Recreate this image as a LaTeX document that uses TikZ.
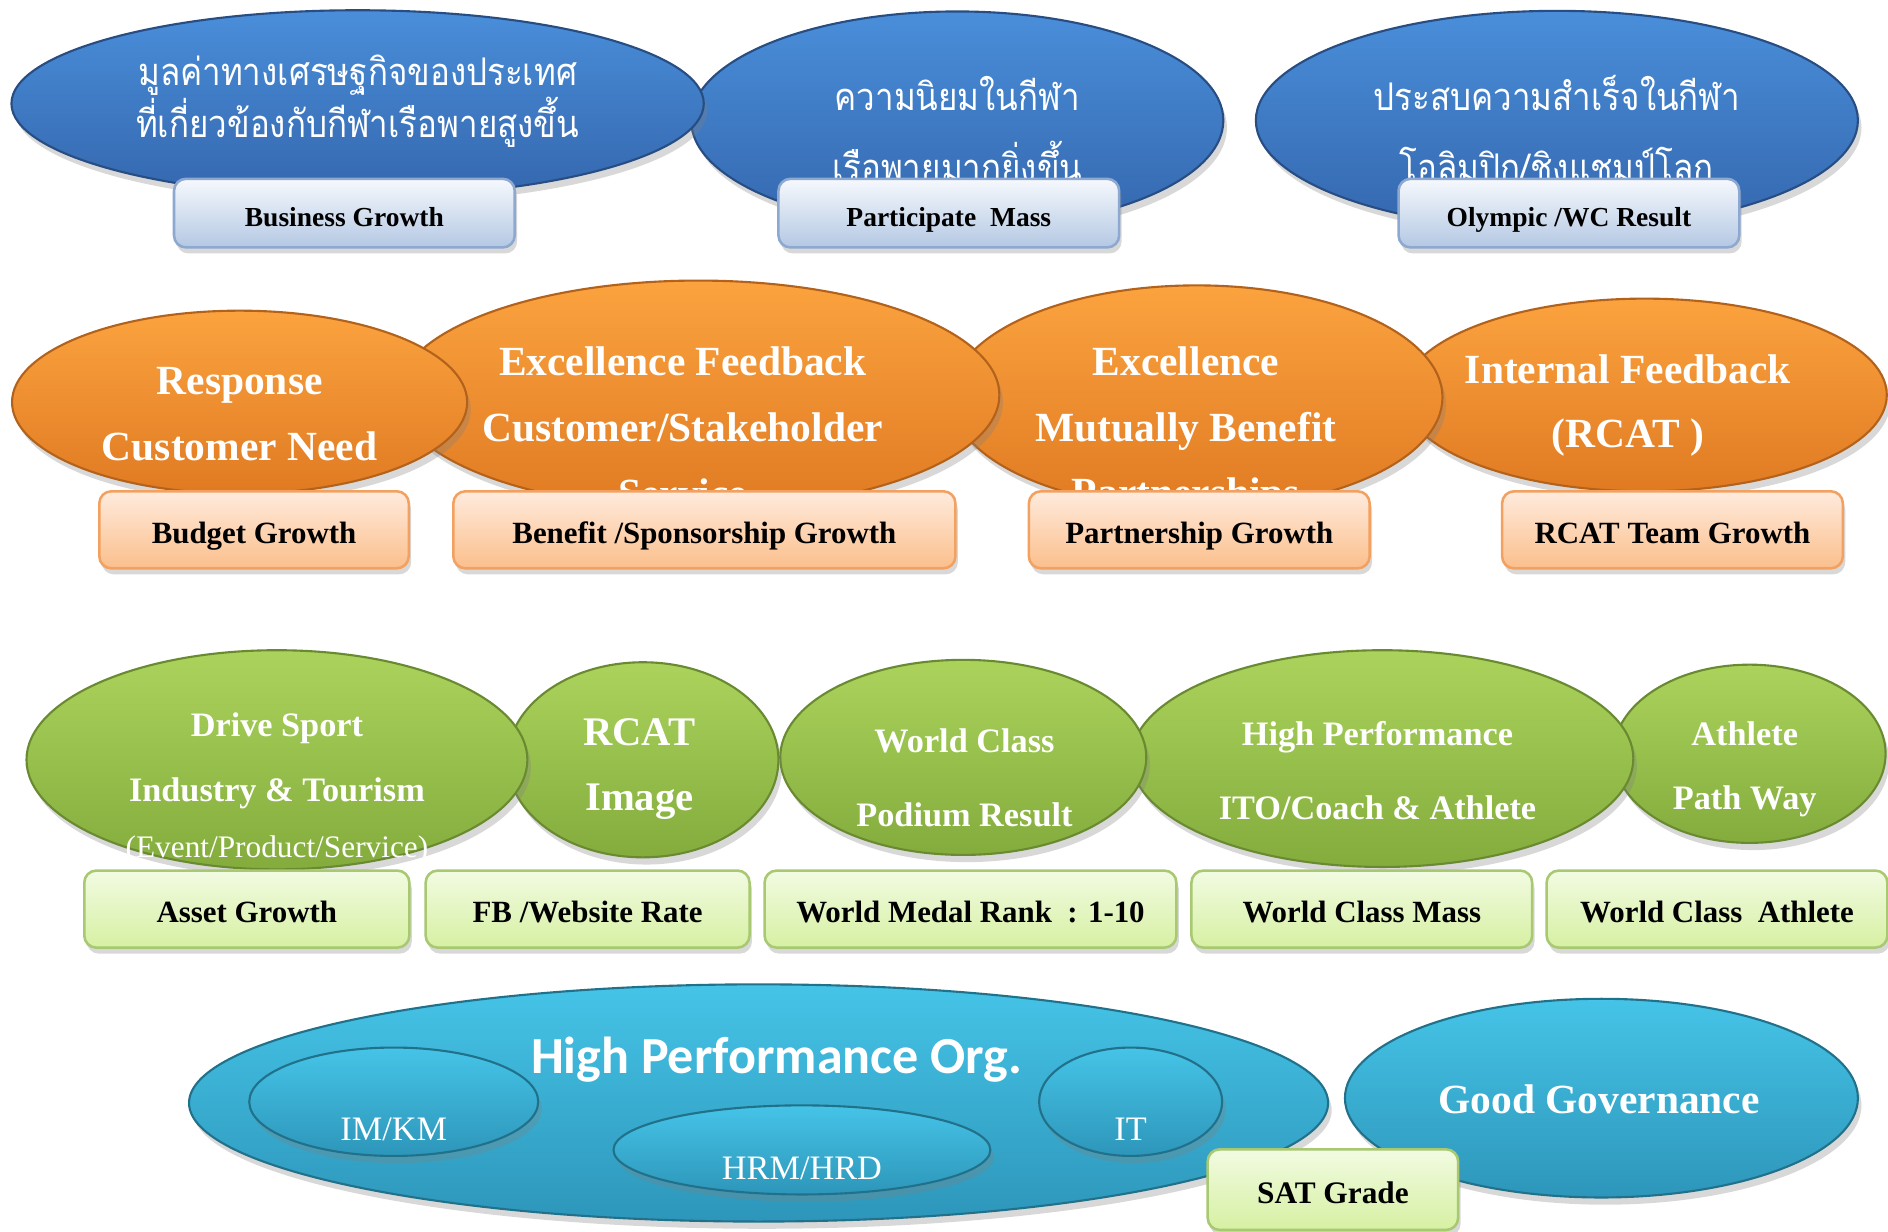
\documentclass[tikz,border=0pt]{standalone}
\usepackage{fontspec}
\setmainfont{Liberation Serif}
\newfontfamily\thaifont[Script=Thai,FakeStretch=0.87]{Loma}
\newfontfamily\calibrifont{Carlito}
\usetikzlibrary{shapes.geometric,shadows}
\definecolor{bluetop}{HTML}{4A8EDA}
\definecolor{bluebot}{HTML}{3467AE}
\definecolor{orangetop}{HTML}{FBA33F}
\definecolor{orangebot}{HTML}{E07A22}
\definecolor{greentop}{HTML}{ABD35C}
\definecolor{greenbot}{HTML}{84AC3D}
\definecolor{cyantop}{HTML}{45C4E7}
\definecolor{cyanbot}{HTML}{2D96BA}
\definecolor{bluetagtop}{HTML}{F6F9FD}
\definecolor{bluetagbot}{HTML}{B4C8E3}
\definecolor{bluetagline}{HTML}{8DA8D1}
\definecolor{orangetagtop}{HTML}{FFEBDD}
\definecolor{orangetagbot}{HTML}{FBBF8C}
\definecolor{orangetagline}{HTML}{F2A160}
\definecolor{greentagtop}{HTML}{F2FBE2}
\definecolor{greentagbot}{HTML}{D6F0A2}
\definecolor{greentagline}{HTML}{A8C872}
\begin{document}
\begin{tikzpicture}[x=0.1mm,y=-0.1mm,
  blob/.style={ellipse,inner sep=0pt,line width=0.5pt,
    drop shadow={shadow xshift=0.3mm,shadow yshift=-0.6mm,opacity=0.3}},
  blueblob/.style={blob,top color=bluetop,bottom color=bluebot,draw=bluebot!75!black},
  orangeblob/.style={blob,top color=orangetop,bottom color=orangebot,draw=orangebot!80!black},
  greenblob/.style={blob,top color=greentop,bottom color=greenbot,draw=greenbot!80!black},
  cyanblob/.style={blob,top color=cyantop,bottom color=cyanbot,draw=cyanbot!75!black},
  tag/.style={rectangle,rounded corners=1mm,inner sep=0pt,line width=0.6pt,
    minimum width=28.3mm,minimum height=6.4mm,text height=1.4ex,text depth=0pt,
    font=\bfseries\fontsize{7.3}{9}\selectfont,
    drop shadow={shadow xshift=0.2mm,shadow yshift=-0.5mm,opacity=0.3}},
  bluetag/.style={tag,top color=bluetagtop,bottom color=bluetagbot,draw=bluetagline,
    minimum height=5.7mm,font=\bfseries\fontsize{6.5}{8}\selectfont},
  orangetag/.style={tag,top color=orangetagtop,bottom color=orangetagbot,draw=orangetagline},
  greentag/.style={tag,top color=greentagtop,bottom color=greentagbot,draw=greentagline},
  caption/.style={text=white,align=center,inner sep=0pt},
  thaicap/.style={caption,font=\thaifont\fontsize{9}{#1}\selectfont},
  orangecap/.style={caption,font=\bfseries\fontsize{9.8}{#1}\selectfont},
  greencap/.style={caption,font=\bfseries\fontsize{8.1}{#1}\selectfont},
  smallcap/.style={caption,font=\fontsize{8.1}{10}\selectfont}]
\fill[white] (0,0) rectangle (1568,1023);
\useasboundingbox (0,0) rectangle (1568,1023);

% outcome row
\node[blueblob,minimum width=50mm,minimum height=18.2mm] (medalblob) at (1293,100) {};
\node[blueblob,minimum width=44.2mm,minimum height=18.1mm] (massblob) at (795,100) {};
\node[blueblob,minimum width=57.5mm,minimum height=15.5mm] (valueblob) at (297,86) {};
\node[thaicap=12.2] (valuetext) at (297,84) {มูลค่าทางเศรษฐกิจของประเทศ\\ที่เกี่ยวข้องกับกีฬาเรือพายสูงขึ้น};
\node[thaicap=16.8] (masstext) at (795,107) {ความนิยมในกีฬา\\เรือพายมากยิ่งขึ้น};
\node[thaicap=16.8] (medaltext) at (1293,107) {ประสบความสำเร็จในกีฬา\\โอลิมปิก/ชิงแชมป์โลก};
\node[bluetag] (valuetag) at (286,177) {Business Growth};
\node[bluetag] (masstag) at (788,177) {Participate~ Mass};
\node[bluetag] (medaltag) at (1303,177) {Olympic /WC Result};

% stakeholder row
\node[orangeblob,minimum width=40.2mm,minimum height=16mm] (rcatblob) at (1366,328) {};
\node[orangeblob,minimum width=40.8mm,minimum height=18.6mm] (partnerblob) at (994,330) {};
\node[orangeblob,minimum width=50mm,minimum height=19mm] (feedbackblob) at (580,328) {};
\node[orangeblob,minimum width=37.8mm,minimum height=15.2mm] (needblob) at (199,334) {};
\node[orangecap=15.4] (needtext) at (199,344) {Response\\Customer Need};
\node[orangecap=15.6] (feedbacktext) at (567,355) {Excellence Feedback\\Customer/Stakeholder\\Service};
\node[orangecap=15.4] (partnertext) at (985,358) {Excellence\\Mutually Benefit\\Partnerships};
\node[orangecap=15.1] (rcattext) at (1352,337) {Internal Feedback\\(RCAT )};
\node[orangetag,minimum width=25.7mm] (budgettag) at (211,440) {Budget Growth};
\node[orangetag,minimum width=41.7mm] (sponsortag) at (585,440) {Benefit /Sponsorship Growth};
\node[orangetag] (partnertag) at (996,440) {Partnership Growth};
\node[orangetag] (teamtag) at (1389,440) {RCAT Team Growth};

% process row
\node[greenblob,minimum width=22.6mm,minimum height=14.8mm] (pathblob) at (1453,626) {};
\node[greenblob,minimum width=41.7mm,minimum height=18mm] (hpblob) at (1148,630) {};
\node[greenblob,minimum width=30.4mm,minimum height=16.2mm] (podiumblob) at (800,629) {};
\node[greenblob,minimum width=22.5mm,minimum height=16.2mm] (imageblob) at (534,631) {};
\node[greenblob,minimum width=41.6mm,minimum height=18.2mm] (sportblob) at (230,631) {};
\node[greencap=15.4] (sporttext) at (230,632) {Drive Sport\\Industry \& Tourism};
\node[caption,font=\fontsize{7.4}{9}\selectfont] (sportsub) at (230,706) {(Event/Product/Service)};
\node[caption,font=\bfseries\fontsize{9.6}{15.4}\selectfont] (imagetext) at (531,639) {RCAT\\Image};
\node[greencap=17.4] (podiumtext) at (801,646) {World Class\\Podium Result};
\node[greencap=17.4] (hptext) at (1144,640) {High Performance\\ITO/Coach \& Athlete};
\node[greencap=15] (pathtext) at (1449,639) {Athlete\\Path Way};
\node[greentag,minimum width=27mm] (assettag) at (205,755) {Asset Growth};
\node[greentag,minimum width=26.9mm] (webtag) at (488,755) {FB /Website Rate};
\node[greentag,minimum width=34.2mm] (ranktag) at (806,755) {World Medal Rank~ : 1-10};
\node[greentag] (masstag2) at (1131,755) {World Class Mass};
\node[greentag] (athletetag) at (1426,755) {World Class~ Athlete};

% foundation row
\node[cyanblob,minimum width=94.6mm,minimum height=19.7mm] (orgblob) at (630,916) {};
\node[cyanblob,minimum width=24mm,minimum height=9mm] (kmblob) at (327,915) {};
\node[cyanblob,minimum width=31.3mm,minimum height=7.4mm] (hrblob) at (666,955) {};
\node[cyanblob,minimum width=15.2mm,minimum height=9mm] (itblob) at (939,915) {};
\node[cyanblob,minimum width=42.6mm,minimum height=16.5mm] (govblob) at (1330,912) {};
\node[caption,font=\calibrifont\bfseries\fontsize{12.3}{15}\selectfont] (orgtext) at (645,880) {High Performance Org.};
\node[smallcap] (kmtext) at (327,938) {IM/KM};
\node[smallcap] (hrtext) at (666,970) {HRM/HRD};
\node[smallcap] (ittext) at (939,938) {IT};
\node[orangecap=12] (govtext) at (1328,913) {Good Governance};
\node[greentag,minimum width=20.8mm,minimum height=6.7mm,font=\bfseries\fontsize{7.4}{9}\selectfont] (sattag) at (1107,988) {SAT Grade};
\end{tikzpicture}
\end{document}
